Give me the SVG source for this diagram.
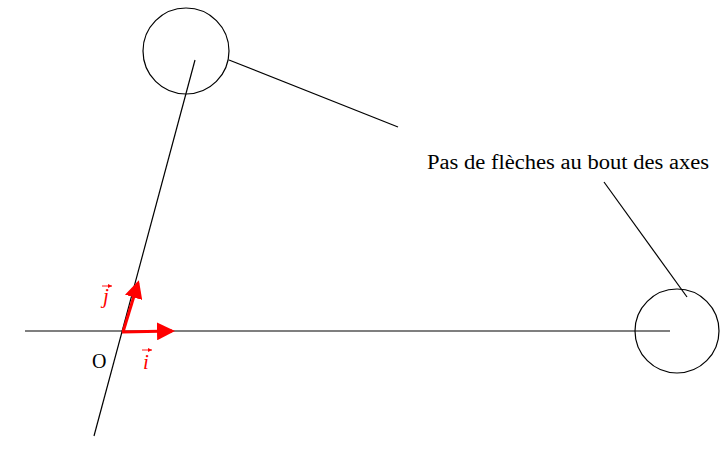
<svg xmlns="http://www.w3.org/2000/svg" width="727" height="465" viewBox="0 0 727 465">
<style>
.ax{stroke:#000;stroke-width:1.2;fill:none}
.c{stroke:#000;stroke-width:1.2;fill:none}
.v{stroke:#f00;stroke-width:3;fill:none}
.t{font-family:"Liberation Serif",serif;font-size:20px;fill:#000}
.r{font-family:"Liberation Serif",serif;font-size:21px;fill:#f00;font-style:italic}
.sa{stroke:#f00;stroke-width:0.9;fill:none}
</style>
<defs>
<marker id="ah" markerWidth="6" markerHeight="6" refX="5" refY="3" orient="auto" markerUnits="strokeWidth">
<path d="M0,0 L6,3 L0,6 Z" fill="#f00"/>
</marker>
<marker id="sh" markerWidth="5" markerHeight="4" refX="4" refY="2" orient="auto" markerUnits="userSpaceOnUse">
<path d="M0,0 L4,2 L0,4 Z" fill="#f00"/>
</marker>
</defs>
<g id="connectors">
<line class="ax" x1="25" y1="331" x2="670" y2="331"/>
<line class="ax" x1="94" y1="436" x2="195" y2="60"/>
<line class="ax" x1="229" y1="60" x2="398" y2="127"/>
<line class="ax" x1="604" y1="182" x2="687" y2="297"/>
</g>
<g id="circle-top"><circle class="c" cx="186" cy="51" r="43"/></g>
<g id="circle-right"><circle class="c" cx="677" cy="331" r="42"/></g>
<g id="note"><text class="t" x="427" y="169" textLength="282" lengthAdjust="spacingAndGlyphs">Pas de flèches au bout des axes</text></g>
<g id="vectors">
<line class="v" x1="122" y1="332" x2="172" y2="331" marker-end="url(#ah)"/>
<line class="v" x1="123" y1="332" x2="138" y2="283" marker-end="url(#ah)"/>
</g>
<g id="label-O"><text class="t" x="92" y="368">O</text></g>
<g id="label-i">
<text class="r" x="143" y="369">i</text>
<line class="sa" x1="142" y1="350" x2="152" y2="350" marker-end="url(#sh)"/>
</g>
<g id="label-j">
<text class="r" x="103" y="303">j</text>
<line class="sa" x1="102" y1="286" x2="112" y2="286" marker-end="url(#sh)"/>
</g>
</svg>
